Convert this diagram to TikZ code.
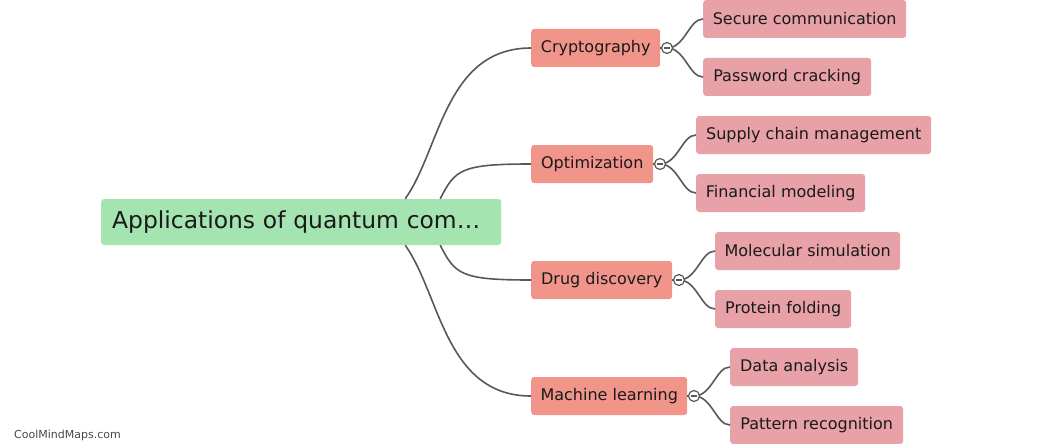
\documentclass[tikz,border=0pt]{standalone}
\usepackage{fontspec}
\setmainfont{DejaVu Sans}
\usetikzlibrary{positioning}
\definecolor{rootgreen}{RGB}{163,228,176}
\definecolor{topicred}{RGB}{241,148,138}
\definecolor{leafpink}{RGB}{232,161,167}
\definecolor{linegray}{RGB}{88,88,88}
\definecolor{inkgray}{RGB}{26,26,26}
\tikzstyle{link}    = [draw=linegray, line width=1.6pt]
\tikzstyle{rootbox} = [rectangle, fill=rootgreen, rounded corners=3pt, minimum height=46pt, anchor=west, inner xsep=11pt, align=left, text=inkgray, font=\fontsize{23.4}{28}\selectfont]
\tikzstyle{topic}   = [rectangle, fill=topicred, rounded corners=3pt, minimum height=38pt, anchor=west, text=inkgray, font=\fontsize{16}{19}\selectfont]
\tikzstyle{leaf}    = [rectangle, fill=leafpink, rounded corners=3pt, minimum height=38pt, anchor=west, text=inkgray, font=\fontsize{16}{19}\selectfont]
\tikzset{fold/.style={circle, draw=linegray, fill=white, line width=1.2pt, minimum size=11pt, inner sep=0pt,
    path picture={\draw[linegray, line width=1.1pt] ([xshift=-3pt]path picture bounding box.center) -- ([xshift=3pt]path picture bounding box.center);}}}

\begin{document}
\begin{tikzpicture}[x=1pt, y=-1pt]
    \useasboundingbox (0,0) rectangle (1045,444);

    % root and main topics
    \node (root)   at (101,222) [rootbox, text width=378pt] {Applications of quantum com…};
    \node (crypto) at (531,48)  [topic, minimum width=129pt] {Cryptography};
    \node (optim)  at (531,164) [topic, minimum width=122pt] {Optimization};
    \node (drug)   at (531,280) [topic, minimum width=141pt] {Drug discovery};
    \node (ml)     at (531,396) [topic, minimum width=156pt] {Machine learning};

    % leaves
    \node (secure) at (703,19)  [leaf, minimum width=203pt] {Secure communication};
    \node (passwd) at (703,77)  [leaf, minimum width=168pt] {Password cracking};
    \node (supply) at (696,135) [leaf, minimum width=235pt] {Supply chain management};
    \node (finance)at (696,193) [leaf, minimum width=169pt] {Financial modeling};
    \node (molsim) at (715,251) [leaf, minimum width=185pt] {Molecular simulation};
    \node (protein)at (715,309) [leaf, minimum width=136pt] {Protein folding};
    \node (data)   at (730,367) [leaf, minimum width=128pt] {Data analysis};
    \node (pattern)at (730,425) [leaf, minimum width=173pt] {Pattern recognition};

    % root to topics
    \draw [link] ([xshift=104pt]root.north) .. controls +(35,-49) and +(-86,0) .. (crypto.west);
    \draw [link] ([xshift=139pt]root.north) .. controls +(15,-29) and +(-71,0) .. (optim.west);
    \draw [link] ([xshift=139pt]root.south) .. controls +(15,29) and +(-71,0) .. (drug.west);
    \draw [link] ([xshift=104pt]root.south) .. controls +(35,49) and +(-86,0) .. (ml.west);

    % topics to leaves
    \draw [link] (crypto.east) -- (667,48) node (f1) {};
    \draw [link] (optim.east)  -- (660,164) node (f2) {};
    \draw [link] (drug.east)   -- (679,280) node (f3) {};
    \draw [link] (ml.east)     -- (694,396) node (f4) {};
    \draw [link] (f1.center) .. controls +(18,0) and +(-14,0) .. (secure.west);
    \draw [link] (f1.center) .. controls +(18,0) and +(-14,0) .. (passwd.west);
    \draw [link] (f2.center) .. controls +(18,0) and +(-14,0) .. (supply.west);
    \draw [link] (f2.center) .. controls +(18,0) and +(-14,0) .. (finance.west);
    \draw [link] (f3.center) .. controls +(18,0) and +(-14,0) .. (molsim.west);
    \draw [link] (f3.center) .. controls +(18,0) and +(-14,0) .. (protein.west);
    \draw [link] (f4.center) .. controls +(18,0) and +(-14,0) .. (data.west);
    \draw [link] (f4.center) .. controls +(18,0) and +(-14,0) .. (pattern.west);

    % fold markers
    \node [fold] at (f1) {};
    \node [fold] at (f2) {};
    \node [fold] at (f3) {};
    \node [fold] at (f4) {};

    \node (mark) at (14,435) [anchor=west, inner sep=0pt, text=inkgray!80, font=\fontsize{11}{13}\selectfont] {CoolMindMaps.com};
\end{tikzpicture}
\end{document}
